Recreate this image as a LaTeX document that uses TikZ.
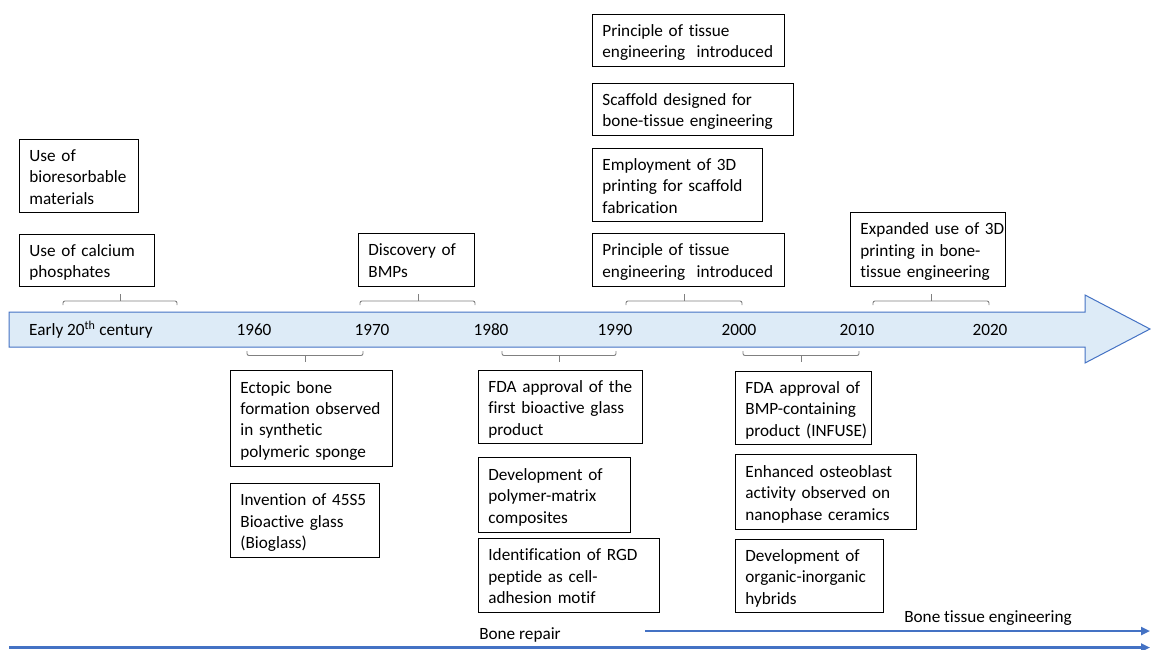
\documentclass[tikz,border=0pt]{standalone}
\usepackage{fontspec}
\setmainfont{Carlito}[Ligatures={NoCommon}]
\usetikzlibrary{arrows.meta}
\definecolor{arrfill}{RGB}{221,235,247}
\definecolor{arrline}{RGB}{68,114,196}
\definecolor{brkgray}{RGB}{128,128,128}
\newcommand\mlines[1]{\raisebox{-2.5pt}[\height][\depth]{\begin{tabular}{@{}l@{}}#1\end{tabular}}}
\begin{document}
\begin{tikzpicture}[x=1pt,y=-1pt,
  evbox/.style={draw=black, line width=0.8pt, inner xsep=10pt, inner ysep=0pt,
    align=left, anchor=north west, font=\fontsize{17.2}{21.4}\selectfont},
  yr/.style={font=\fontsize{17.2}{21}\selectfont, inner sep=0pt},
  lbl/.style={font=\fontsize{17.2}{21}\selectfont, inner sep=0pt},
  brk/.style={draw=brkgray, line width=0.9pt, rounded corners=2pt},
  flow/.style={draw=arrline, line width=2.6pt, -{Triangle[length=9pt,width=8pt]}},
  bigarrow/.style={draw=arrline, fill=arrfill, line width=1pt, line join=miter}]
\useasboundingbox (0,0) rectangle (1151,650);

% main timeline arrow
\draw[bigarrow] (9,312) -- (1085,312) -- (1085,295) -- (1150,329) -- (1085,363) -- (1085,347) -- (9,347) -- cycle;

% year labels
\node[yr] (y0) at (91,329.5) {Early 20\textsuperscript{th} century};
\node[yr] (y60) at (254,329.5) {1960};
\node[yr] (y70) at (372,329.5) {1970};
\node[yr] (y80) at (491,329.5) {1980};
\node[yr] (y90) at (615,329.5) {1990};
\node[yr] (y00) at (739,329.5) {2000};
\node[yr] (y10) at (857,329.5) {2010};
\node[yr] (y20) at (990,329.5) {2020};

% top brackets
\draw[brk] (63,305) -- (63,301) -- (177,301) -- (177,305);
\draw[brk] (120,301) -- (120,294);
\draw[brk] (360,305) -- (360,301) -- (475,301) -- (475,305);
\draw[brk] (418,301) -- (418,294);
\draw[brk] (626,305) -- (626,301) -- (742,301) -- (742,305);
\draw[brk] (684,301) -- (684,294);
\draw[brk] (873,305) -- (873,301) -- (989,301) -- (989,305);
\draw[brk] (931,301) -- (931,294);

% bottom brackets
\draw[brk] (247,351) -- (247,355.5) -- (363,355.5) -- (363,351);
\draw[brk] (305,355.5) -- (305,362);
\draw[brk] (502,351) -- (502,355.5) -- (616,355.5) -- (616,351);
\draw[brk] (559,355.5) -- (559,362);
\draw[brk] (743,351) -- (743,355.5) -- (859,355.5) -- (859,351);
\draw[brk] (801,355.5) -- (801,362);

% top boxes
\node[evbox, text width=99pt, minimum height=73pt] (bio) at (19,139) {\mlines{Use of\\bioresorbable\\materials}};
\node[evbox, text width=115pt, minimum height=52pt] (calc) at (19,234) {\mlines{Use of calcium\\phosphates}};
\node[evbox, text width=96pt, minimum height=53pt] (bmp) at (358,233) {\mlines{Discovery of\\BMPs}};
\node[evbox, text width=172pt, minimum height=52pt] (pte1) at (592,14) {\mlines{Principle of tissue\\engineering\ \ introduced}};
\node[evbox, text width=181pt, minimum height=52pt] (scaf) at (592,83) {\mlines{Scaffold designed for\\bone-tissue engineering}};
\node[evbox, text width=150pt, minimum height=73pt] (emp) at (592,148) {\mlines{Employment of 3D\\printing for scaffold\\fabrication}};
\node[evbox, text width=172pt, minimum height=53pt] (pte2) at (592,233) {\mlines{Principle of tissue\\engineering\ \ introduced}};
\node[evbox, text width=135pt, minimum height=74pt] (expd) at (850,212) {\mlines{Expanded use of 3D\\printing in bone-\\tissue engineering}};

% bottom boxes
\node[evbox, text width=142pt, minimum height=96pt] (ect) at (230,370) {\mlines{Ectopic bone\\formation observed\\in synthetic\\polymeric sponge}};
\node[evbox, text width=129pt, minimum height=74pt] (inv) at (230,483) {\mlines{Invention of 45S5\\Bioactive glass\\(Bioglass)}};
\node[evbox, text width=144pt, minimum height=73pt] (fda1) at (478,370) {\mlines{FDA approval of the\\first bioactive glass\\product}};
\node[evbox, text width=132pt, minimum height=75pt] (devp) at (478,457) {\mlines{Development of\\polymer-matrix\\composites}};
\node[evbox, text width=161pt, minimum height=74pt] (rgd) at (478,538) {\mlines{Identification of RGD\\peptide as cell-\\adhesion motif}};
\node[evbox, text width=116pt, minimum height=73pt] (fda2) at (735,371) {\mlines{FDA approval of\\BMP-containing\\product (INFUSE)}};
\node[evbox, text width=161pt, minimum height=75pt] (enh) at (735,454) {\mlines{Enhanced osteoblast\\activity observed on\\nanophase ceramics}};
\node[evbox, text width=128pt, minimum height=73pt] (orgi) at (735,539) {\mlines{Development of\\organic-inorganic\\hybrids}};

% era arrows
\coordinate (bteS) at (645,631);
\coordinate (bteE) at (1150,631);
\coordinate (brS) at (9,647.5);
\coordinate (brE) at (1150,647.5);
\draw[flow] (bteS) -- (bteE);
\draw[flow] (brS) -- (brE);
\node[lbl] (bte) at (988,618) {Bone tissue engineering};
\node[lbl] (br) at (520,635) {Bone repair};
\end{tikzpicture}
\end{document}
